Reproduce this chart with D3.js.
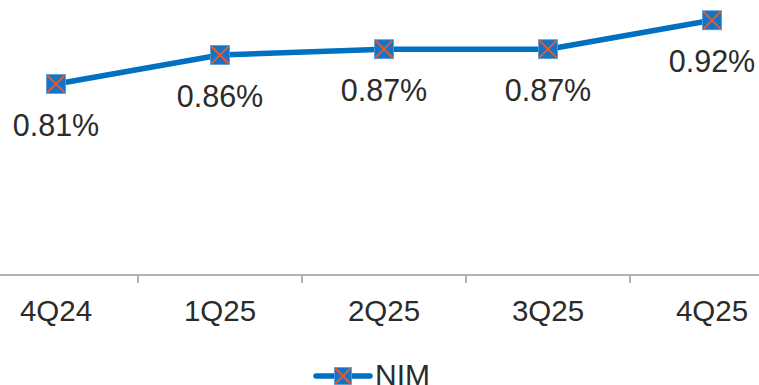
<!DOCTYPE html>
<html>
<head>
<meta charset="utf-8">
<script src="https://cdn.jsdelivr.net/npm/d3@7"></script>
<style>
  body { margin: 0; background: #fff; }
  svg { display: block; font-family: "Liberation Sans", Arial, sans-serif; }
</style>
</head>
<body>
<div id="chart"></div>
<script>
// chart data
const quarters = ['4Q24', '1Q25', '2Q25', '3Q25', '4Q25'];
const nimValues = [0.81, 0.86, 0.87, 0.87, 0.92];
const seriesName = 'NIM';

const width = 759, height = 385;
const lineColor = '#0070C0';
const crossColor = '#F05A22';
const textColor = '#2b2b2b';

const svg = d3.select('#chart').append('svg')
  .attr('width', width)
  .attr('height', height);

// band scale is wider than the picture, the outer bands are cropped
const xScale = d3.scaleBand()
  .domain(quarters)
  .range([-26, 794]);

const yScale = d3.scaleLinear()
  .domain([0.48, 0.955])
  .range([275, 0]);

const cx = d => xScale(d) + xScale.bandwidth() / 2;

// x axis: baseline plus ticks between categories
const axisG = svg.append('g');
axisG.append('line')
  .attr('x1', 0).attr('x2', width)
  .attr('y1', 275).attr('y2', 275)
  .attr('stroke', '#9a9a9a')
  .attr('stroke-width', 1.5);

axisG.selectAll('.tick')
  .data(quarters.slice(1))
  .join('line')
  .attr('class', 'tick')
  .attr('x1', d => xScale(d)).attr('x2', d => xScale(d))
  .attr('y1', 275).attr('y2', 283)
  .attr('stroke', '#9a9a9a')
  .attr('stroke-width', 1.5);

axisG.selectAll('.cat')
  .data(quarters)
  .join('text')
  .attr('class', 'cat')
  .attr('x', d => cx(d))
  .attr('y', 321)
  .attr('text-anchor', 'middle')
  .attr('font-size', 29.5)
  .attr('fill', textColor)
  .text(d => d);

const points = quarters.map((q, i) => ({ q, v: nimValues[i] }));

// series line
svg.append('path')
  .datum(points)
  .attr('fill', 'none')
  .attr('stroke', lineColor)
  .attr('stroke-width', 5.5)
  .attr('stroke-linejoin', 'round')
  .attr('d', d3.line().x(d => cx(d.q)).y(d => yScale(d.v)));

function drawMarker(g, size) {
  const h = size / 2;
  g.append('rect')
    .attr('x', -h).attr('y', -h)
    .attr('width', size).attr('height', size)
    .attr('fill', '#1573C8')
    .attr('stroke', '#5b9bd5')
    .attr('stroke-width', 0.8);
  g.append('path')
    .attr('d', `M${-h + 1},${-h + 1}L${h - 1},${h - 1}M${h - 1},${-h + 1}L${-h + 1},${h - 1}`)
    .attr('stroke', crossColor)
    .attr('stroke-width', 1.8);
}

svg.selectAll('.marker')
  .data(points)
  .join('g')
  .attr('class', 'marker')
  .attr('transform', d => `translate(${cx(d.q)},${yScale(d.v)})`)
  .each(function () { drawMarker(d3.select(this), 19); });

// data labels under each point
svg.selectAll('.val')
  .data(points)
  .join('text')
  .attr('class', 'val')
  .attr('x', d => cx(d.q))
  .attr('y', d => yScale(d.v) + 52)
  .attr('text-anchor', 'middle')
  .attr('font-size', 30.5)
  .attr('fill', textColor)
  .text(d => d.v.toFixed(2) + '%');

// legend
const legend = svg.append('g').attr('transform', 'translate(343,376)');
legend.append('line')
  .attr('x1', -27).attr('x2', 27)
  .attr('y1', 0).attr('y2', 0)
  .attr('stroke', lineColor)
  .attr('stroke-width', 5.5)
  .attr('stroke-linecap', 'round');
drawMarker(legend, 17);
legend.append('text')
  .attr('x', 32)
  .attr('y', 8.5)
  .attr('font-size', 30)
  .attr('fill', textColor)
  .text(seriesName);
</script>
</body>
</html>
